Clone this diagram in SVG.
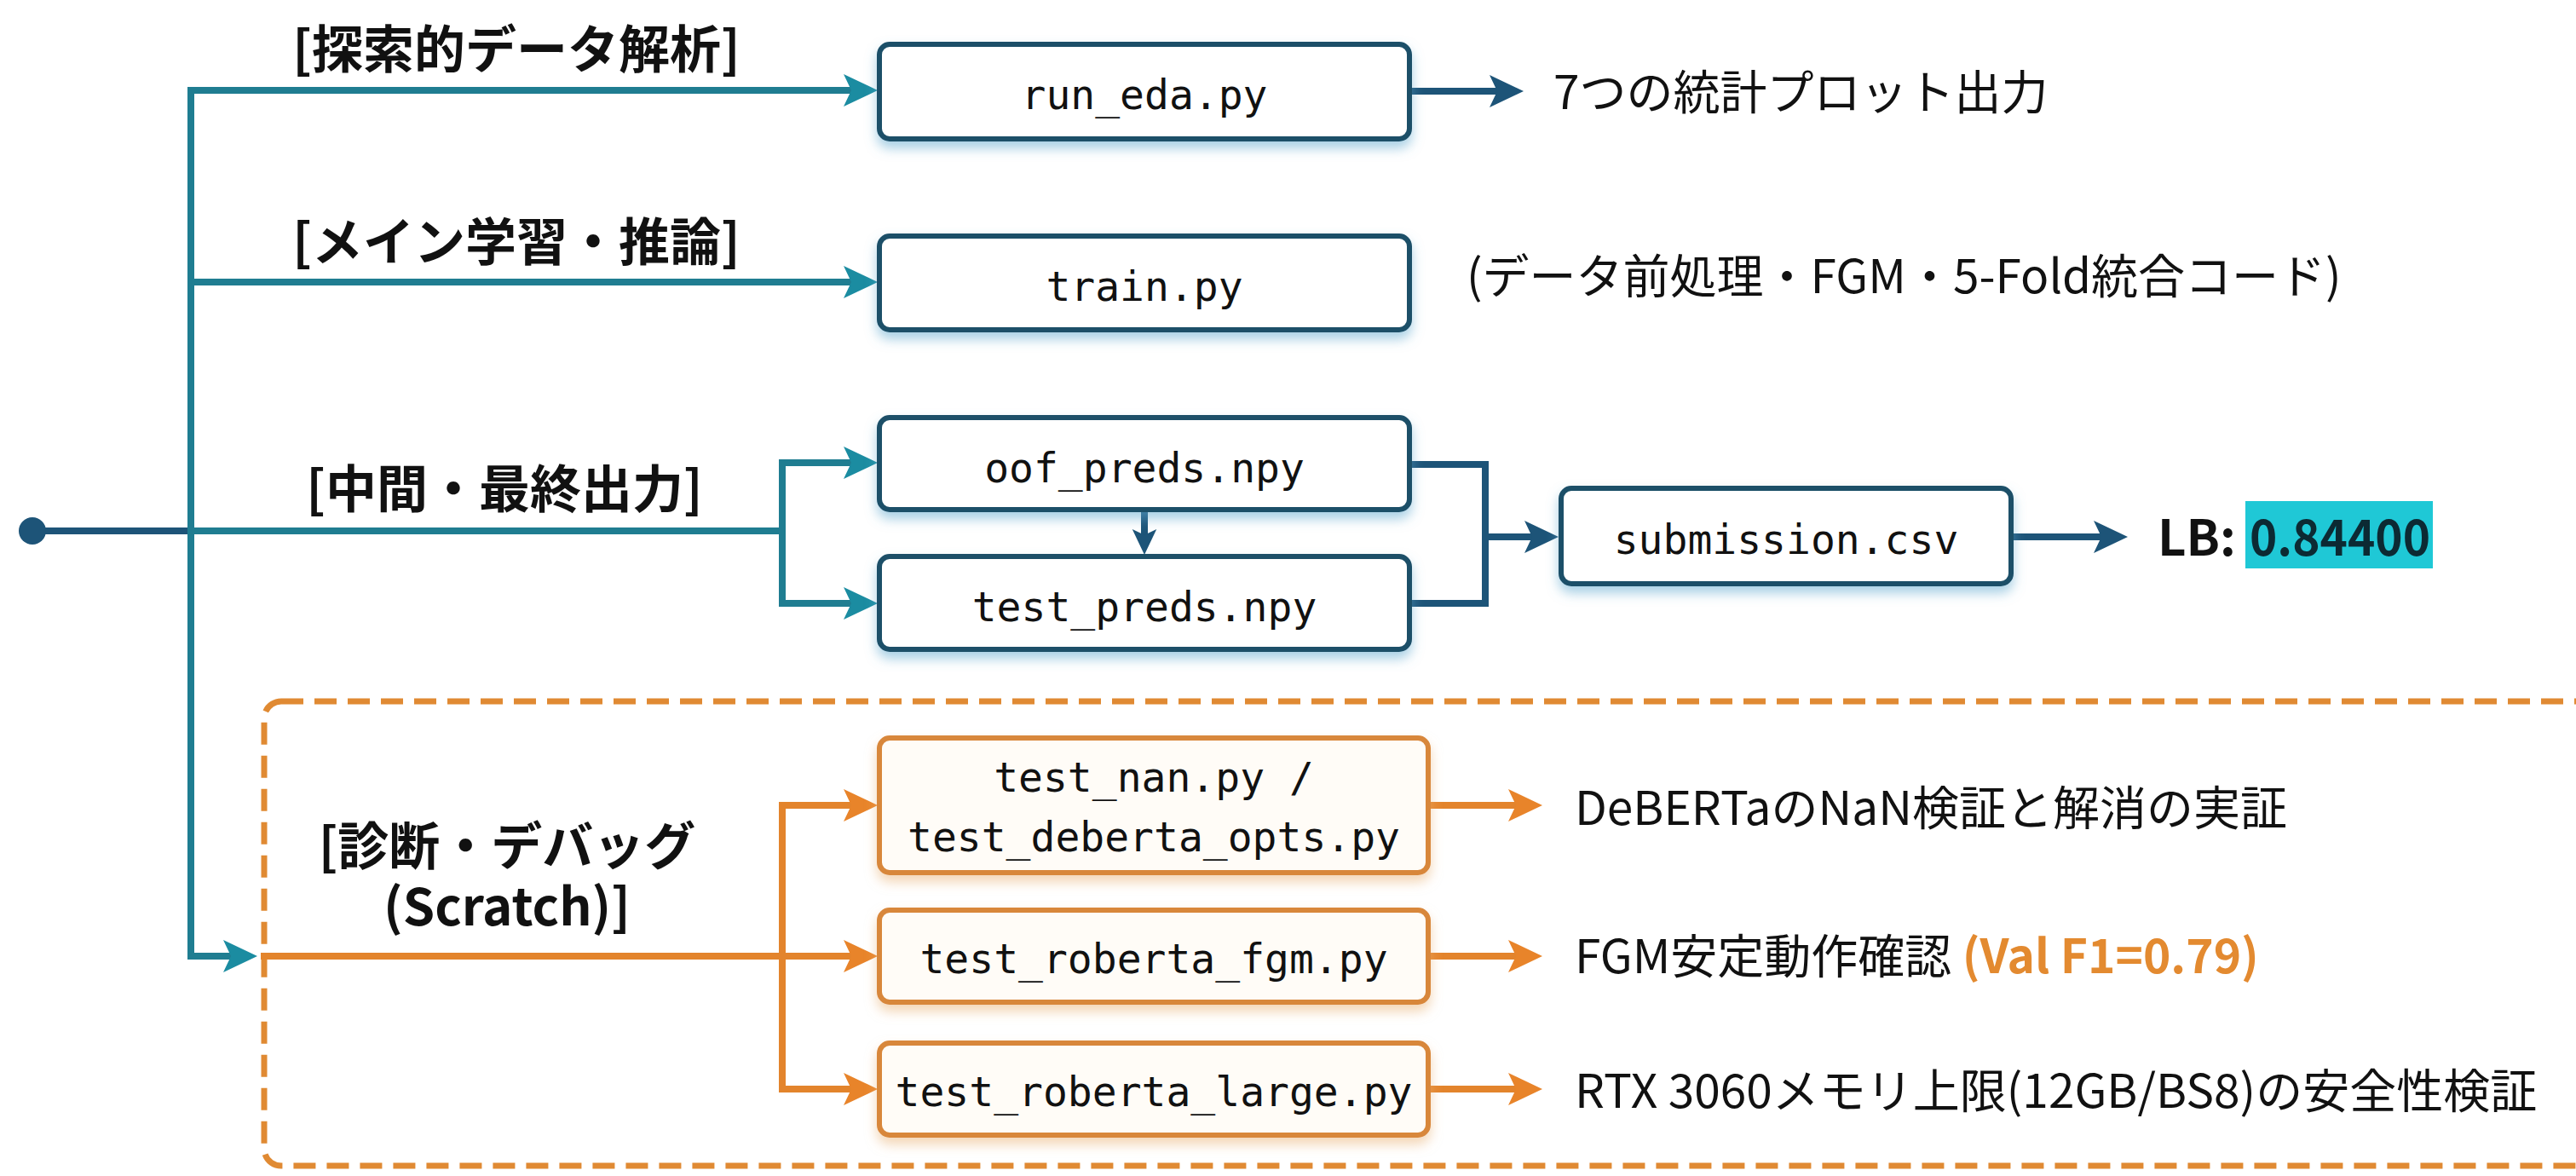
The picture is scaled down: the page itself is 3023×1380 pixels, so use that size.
<svg xmlns="http://www.w3.org/2000/svg" width="3023" height="1380" viewBox="0 0 3023 1380">
<defs>
<style>
.lbl{font-family:"Noto Sans CJK JP","Noto Sans",sans-serif;font-weight:700;font-size:60px;fill:#111;text-anchor:middle}
.desc{font-family:"Noto Sans CJK JP","Noto Sans",sans-serif;font-size:55px;fill:#111}
.code{font-family:"DejaVu Sans Mono","Liberation Mono",monospace;font-size:48px;fill:#111;text-anchor:middle}
.bbox{fill:#ffffff;stroke:#1c4f68;stroke-width:6;filter:url(#shB)}
.obox{fill:#fffcf7;stroke:#d8873a;stroke-width:6;filter:url(#shO)}
.teal{fill:none;stroke:#1f7d91;stroke-width:8}
.navy{fill:none;stroke:#1d5478;stroke-width:8}
.orng{fill:none;stroke:#e3842c;stroke-width:8}
</style>
<filter id="shB" x="-10%" y="-30%" width="120%" height="170%">
<feDropShadow dx="0" dy="8" stdDeviation="7" flood-color="#5fa9cf" flood-opacity="0.55"/>
</filter>
<filter id="shO" x="-10%" y="-30%" width="120%" height="170%">
<feDropShadow dx="0" dy="8" stdDeviation="7" flood-color="#eab47a" flood-opacity="0.55"/>
</filter>
<marker id="aT" viewBox="0 0 40 40" markerUnits="userSpaceOnUse" markerWidth="40" markerHeight="40" refX="24" refY="20" orient="auto">
<path d="M0,1 L40,20 L0,39 L9,20 z" fill="#1b8ca1"/>
</marker>
<marker id="aN" viewBox="0 0 40 40" markerUnits="userSpaceOnUse" markerWidth="40" markerHeight="40" refX="24" refY="20" orient="auto">
<path d="M0,1 L40,20 L0,39 L9,20 z" fill="#1d5478"/>
</marker>
<marker id="aNs" viewBox="0 0 40 40" markerUnits="userSpaceOnUse" markerWidth="30" markerHeight="30" refX="24" refY="20" orient="auto">
<path d="M0,1 L40,20 L0,39 L9,20 z" fill="#1d5478"/>
</marker>
<marker id="aO" viewBox="0 0 40 40" markerUnits="userSpaceOnUse" markerWidth="40" markerHeight="40" refX="24" refY="20" orient="auto">
<path d="M0,1 L40,20 L0,39 L9,20 z" fill="#e8842a"/>
</marker>
</defs>
<rect width="3023" height="1380" fill="#ffffff"/>

<g id="scratch-group">
<rect x="310" y="823" width="2760" height="545" rx="20" fill="none" stroke="#e08a33" stroke-width="7" stroke-dasharray="26 13"/>
</g>

<g id="connectors">
<path class="navy" d="M38 623 H224"/>
<path class="teal" d="M224 623 V106 H1014" marker-end="url(#aT)"/>
<path class="teal" d="M224 331 H1014" marker-end="url(#aT)"/>
<path class="teal" d="M224 623 H918 V543 H1014" marker-end="url(#aT)"/>
<path class="teal" d="M918 623 V708 H1014" marker-end="url(#aT)"/>
<path class="teal" d="M224 623 V1122 H286" marker-end="url(#aT)"/>
<path class="orng" d="M306 1122 H1014" marker-end="url(#aO)"/>
<path class="orng" d="M918 1122 V945 H1014" marker-end="url(#aO)"/>
<path class="orng" d="M918 1122 V1278 H1014" marker-end="url(#aO)"/>
<path class="orng" d="M1676 945 H1794" marker-end="url(#aO)"/>
<path class="orng" d="M1676 1122 H1794" marker-end="url(#aO)"/>
<path class="orng" d="M1676 1278 H1794" marker-end="url(#aO)"/>
<path class="navy" d="M1654 107 H1772" marker-end="url(#aN)"/>
<path class="navy" d="M1343 600 V639" marker-end="url(#aNs)"/>
<path class="navy" d="M1654 545 H1743 V708 H1654"/>
<path class="navy" d="M1743 630 H1813" marker-end="url(#aN)"/>
<path class="navy" d="M2360 630 H2481" marker-end="url(#aN)"/>
</g>

<g id="start">
<circle cx="38" cy="623" r="16" fill="#1d5478"/>
</g>

<g id="label-eda"><text class="lbl" x="606" y="80">[探索的データ解析]</text></g>
<g id="label-train"><text class="lbl" x="606" y="306">[メイン学習・推論]</text></g>
<g id="label-output"><text class="lbl" x="592" y="596">[中間・最終出力]</text></g>
<g id="label-debug">
<text class="lbl" x="595" y="1015">[診断・デバッグ<tspan x="595" dy="71">(Scratch)]</tspan></text>
</g>

<g id="node-run-eda">
<rect class="bbox" x="1032" y="52" width="622" height="111" rx="12"/>
<text class="code" x="1343" y="128">run_eda.py</text>
</g>
<g id="node-train">
<rect class="bbox" x="1032" y="277" width="622" height="110" rx="12"/>
<text class="code" x="1343" y="353">train.py</text>
</g>
<g id="node-oof">
<rect class="bbox" x="1032" y="490" width="622" height="108" rx="12"/>
<text class="code" x="1343" y="566">oof_preds.npy</text>
</g>
<g id="node-test-preds">
<rect class="bbox" x="1032" y="653" width="622" height="109" rx="12"/>
<text class="code" x="1343" y="729">test_preds.npy</text>
</g>
<g id="node-submission">
<rect class="bbox" x="1832" y="573" width="528" height="112" rx="12"/>
<text class="code" x="2096" y="650">submission.csv</text>
</g>

<g id="node-test-nan">
<rect class="obox" x="1032" y="866" width="644" height="158" rx="12"/>
<text class="code" x="1354" y="929">test_nan.py /<tspan x="1354" dy="70">test_deberta_opts.py</tspan></text>
</g>
<g id="node-test-fgm">
<rect class="obox" x="1032" y="1068" width="644" height="108" rx="12"/>
<text class="code" x="1354" y="1142">test_roberta_fgm.py</text>
</g>
<g id="node-test-large">
<rect class="obox" x="1032" y="1224" width="644" height="108" rx="12"/>
<text class="code" x="1354" y="1298">test_roberta_large.py</text>
</g>

<g id="desc-eda"><text class="desc" x="1823" y="128">7つの統計プロット出力</text></g>
<g id="desc-train"><text class="desc" x="1721" y="344">(データ前処理・FGM・5-Fold統合コード)</text></g>
<g id="result-lb">
<rect x="2635" y="588" width="220" height="79" fill="#1fc8d6"/>
<text x="2532" y="652" font-family="'Noto Sans CJK JP','Noto Sans',sans-serif" font-weight="700" font-size="58" fill="#111">LB:</text>
<text x="2640" y="652" font-family="'Noto Sans CJK JP','Noto Sans',sans-serif" font-weight="700" font-size="58" fill="#0c2a33" textLength="212" lengthAdjust="spacingAndGlyphs">0.84400</text>
</g>
<g id="desc-nan"><text class="desc" x="1848" y="968">DeBERTaのNaN検証と解消の実証</text></g>
<g id="desc-fgm"><text class="desc" x="1848" y="1142">FGM安定動作確認 <tspan font-weight="700" fill="#e38a30">(Val F1=0.79)</tspan></text></g>
<g id="desc-large"><text class="desc" x="1848" y="1300">RTX 3060メモリ上限(12GB/BS8)の安全性検証</text></g>
</svg>
